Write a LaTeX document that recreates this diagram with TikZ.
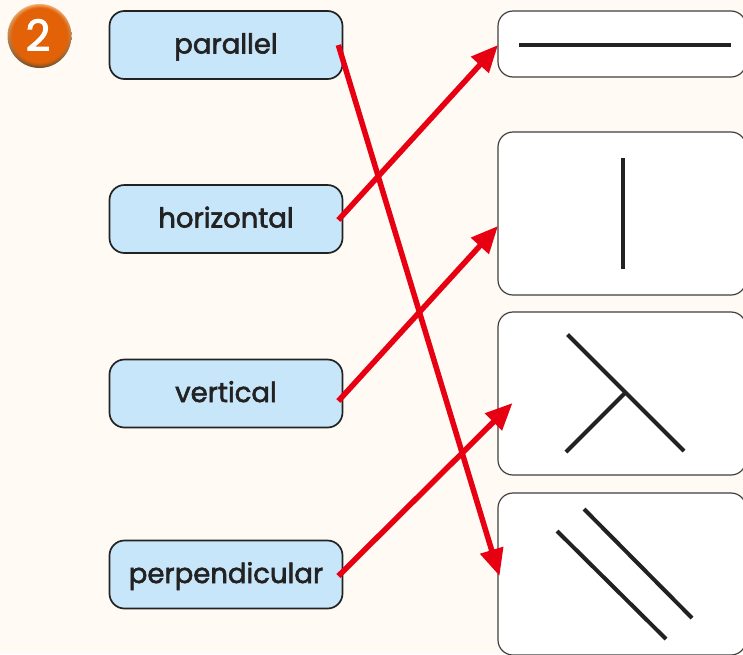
\documentclass[tikz,border=0pt]{standalone}
\usepackage{fontspec}
\setmainfont{Poppins}
\newfontfamily\wordfont{Poppins}[FakeBold=2.2]
\usetikzlibrary{positioning,arrows.meta,fadings}
\definecolor{paper}{HTML}{FFFAF3}
\definecolor{wordblue}{HTML}{C8E6FA}
\definecolor{linkred}{HTML}{E60012}
\definecolor{inkdark}{HTML}{222222}
\definecolor{badgeorange}{HTML}{E36207}

\begin{document}
\begin{tikzpicture}[
    x=1pt,y=-1pt,
    word/.style={draw=inkdark, line width=1.7pt, fill=wordblue, rounded corners=15pt, minimum width=233pt, minimum height=68pt, inner sep=0pt, text height=22pt, text depth=5pt, font=\wordfont\fontsize{27.5}{27.5}\selectfont, text=inkdark},
    pane/.style={draw=black!75, line width=1.2pt, fill=white, rounded corners=15pt},
    mark line/.style={draw=inkdark, line width=4pt},
    link/.style={draw=linkred, line width=5.5pt, -{Triangle[length=27pt,width=23pt]}}
]
\useasboundingbox (0,0) rectangle (743,654);
\clip (0,0) rectangle (743,654);
\fill[paper] (0,0) rectangle (743,654);

% badge
\shade[top color=orange!45!white, bottom color=brown!60!black] (39.5,36) circle (32);
\fill[badgeorange, path fading=circle with fuzzy edge 15 percent] (39.5,35) circle (32);
\node[text=white, font=\wordfont\fontsize{43}{43}\selectfont] (badge) at (38,35) {2};

% words
\node[word] (parallel) at (226,45) {parallel};
\node[word] (horizontal) at (226,219) {horizontal};
\node[word] (vertical) at (226,393.5) {vertical};
\node[word] (perpendicular) at (226,574.5) {perpendicular};

% panes
\draw[pane] (498,11) rectangle (746,77);
\draw[pane] (498,132) rectangle (746,295);
\draw[pane] (498,312) rectangle (746,475);
\draw[pane] (498,493) rectangle (746,655);

\draw[mark line] (519,45) -- (731,45);
\draw[mark line] (623,158) -- (623,269);
\draw[mark line] (567.5,334.5) -- (684,451);
\draw[mark line] (625,393) -- (566,452);
\draw[mark line] (584,509) -- (692,618);
\draw[mark line] (557,531) -- (666,639);

% links
\coordinate (tipflat) at (498,45);
\coordinate (tipupright) at (498,226);
\coordinate (tiptee) at (512.5,403);
\coordinate (tipdouble) at (499.5,576);
\draw[link] ([xshift=-5pt]parallel.east) -- (tipdouble);
\draw[link] ([xshift=-5pt,yshift=-1pt]horizontal.east) -- (tipflat);
\draw[link] ([xshift=-5pt,yshift=-7.5pt]vertical.east) -- (tipupright);
\draw[link] ([xshift=-5pt,yshift=-1.5pt]perpendicular.east) -- (tiptee);
\end{tikzpicture}
\end{document}
